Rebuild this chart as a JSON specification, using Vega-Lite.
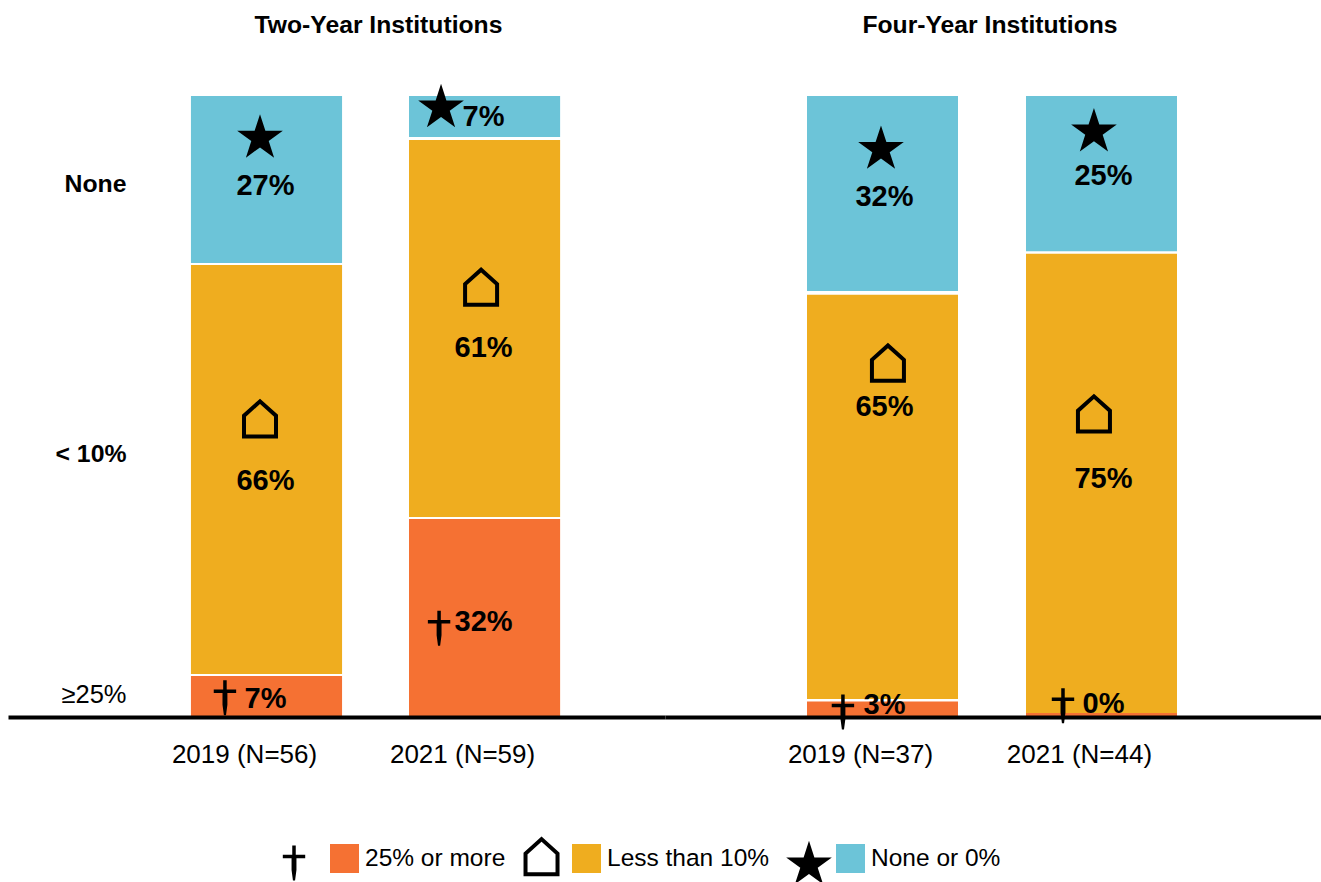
{
"$schema":"https://vega.github.io/schema/vega-lite/v6.json",
"background":"white",
"padding":{"left":8,"top":13,"right":0,"bottom":0},
"spacing":0,
"bounds":"flush",
"config":{"view":{"stroke":null},"font":"Liberation Sans"},
"datasets":{
"bars":[
{"panel":"Two-Year","cohort":"2019 (N=56)","segment":"25% or more","lower":0,"upper":6.6,"label":"7%","labelLevel":3.1},
{"panel":"Two-Year","cohort":"2019 (N=56)","segment":"Less than 10%","lower":6.92,"upper":72.8,"label":"66%","labelLevel":38.3},
{"panel":"Two-Year","cohort":"2019 (N=56)","segment":"None or 0%","lower":73.1,"upper":100,"label":"27%","labelLevel":85.7},
{"panel":"Two-Year","cohort":"2021 (N=59)","segment":"25% or more","lower":0,"upper":31.9,"label":"32%","labelLevel":15.5},
{"panel":"Two-Year","cohort":"2021 (N=59)","segment":"Less than 10%","lower":32.2,"upper":92.9,"label":"61%","labelLevel":59.7},
{"panel":"Two-Year","cohort":"2021 (N=59)","segment":"None or 0%","lower":93.4,"upper":100,"label":"7%","labelLevel":96.8},
{"panel":"Four-Year","cohort":"2019 (N=37)","segment":"25% or more","lower":0,"upper":2.5,"label":"3%","labelLevel":2.1},
{"panel":"Four-Year","cohort":"2019 (N=37)","segment":"Less than 10%","lower":2.9,"upper":68.0,"label":"65%","labelLevel":50.1},
{"panel":"Four-Year","cohort":"2019 (N=37)","segment":"None or 0%","lower":68.6,"upper":100,"label":"32%","labelLevel":83.9},
{"panel":"Four-Year","cohort":"2021 (N=44)","segment":"25% or more","lower":0,"upper":0.64,"label":"0%","labelLevel":2.4},
{"panel":"Four-Year","cohort":"2021 (N=44)","segment":"Less than 10%","lower":0.64,"upper":74.6,"label":"75%","labelLevel":38.6},
{"panel":"Four-Year","cohort":"2021 (N=44)","segment":"None or 0%","lower":75.0,"upper":100,"label":"25%","labelLevel":87.4}
],
"icons":[
{"panel":"Two-Year","cohort":"2019 (N=56)","icon":"dagger","across":22.5,"level":3.1},
{"panel":"Two-Year","cohort":"2019 (N=56)","icon":"house","across":45.7,"level":48.0},
{"panel":"Two-Year","cohort":"2019 (N=56)","icon":"star","across":45.7,"level":93.2},
{"panel":"Two-Year","cohort":"2021 (N=59)","icon":"dagger","across":19.9,"level":14.3},
{"panel":"Two-Year","cohort":"2021 (N=59)","icon":"house","across":47.7,"level":69.2},
{"panel":"Two-Year","cohort":"2021 (N=59)","icon":"star","across":21.2,"level":98.1},
{"panel":"Four-Year","cohort":"2019 (N=37)","icon":"dagger","across":23.8,"level":0.8},
{"panel":"Four-Year","cohort":"2019 (N=37)","icon":"house","across":53.6,"level":57.0},
{"panel":"Four-Year","cohort":"2019 (N=37)","icon":"star","across":49,"level":91.4},
{"panel":"Four-Year","cohort":"2021 (N=44)","icon":"dagger","across":24.5,"level":1.8},
{"panel":"Four-Year","cohort":"2021 (N=44)","icon":"house","across":45,"level":48.8},
{"panel":"Four-Year","cohort":"2021 (N=44)","icon":"star","across":45,"level":94.2},
{"panel":"Two-Year","cohort":"2019 (N=56)","icon":"dagger","across":68.2,"level":-23.5},
{"panel":"Two-Year","cohort":"2019 (N=56)","icon":"house","across":232,"level":-22.5},
{"panel":"Two-Year","cohort":"2019 (N=56)","icon":"star","across":409,"level":-23.8}
]
},
"hconcat":[
{
"width":657,"height":621,
"title":{"text":"Two-Year Institutions","fontSize":24.7,"fontWeight":"bold","color":"black","anchor":"middle","dx":42,"offset":46},
"resolve":{"scale":{"xOffset":"independent"}},
"encoding":{
"x":{"field":"cohort","type":"nominal","sort":["2019 (N=56)","2021 (N=59)"],
"scale":{"paddingInner":0.307,"paddingOuter":0.66,"align":0.6356},
"axis":{"title":null,"labelAngle":0,"labelFontSize":26,"labelColor":"black","labelOffset":-22,"labelPadding":24,"ticks":false,"domainColor":"black","domainWidth":4,"zindex":1}}
},
"layer":[
{"data":{"name":"bars"},"transform":[{"filter":"datum.panel==='Two-Year'"}],
"mark":{"type":"bar","width":{"band":1}},
"encoding":{
"y":{"field":"lower","type":"quantitative","scale":{"domain":[0,100],"nice":false},
"axis":{"title":null,"values":[3.7,42.2,85.7],"labelExpr":"datum.value==85.7?'None':datum.value==42.2?'< 10%':'≥25%'","labelFontSize":{"condition":{"test":"datum.value==3.7","value":25.5},"value":24.8},"labelColor":"black","labelPadding":-118,"ticks":false,"domain":false,"grid":false,"labelFontWeight":{"condition":{"test":"datum.value==3.7","value":"normal"},"value":"bold"}}},
"y2":{"field":"upper"},
"color":{"field":"segment","type":"nominal","scale":{"domain":["25% or more","Less than 10%","None or 0%"],"range":["#F57133","#EFAD1F","#6CC4D8"]},
"legend":{"title":null,"orient":"none","legendX":322,"legendY":748,"direction":"horizontal","columns":3,"symbolType":"square","symbolSize":841,"symbolStrokeWidth":0,"symbolOpacity":1,"labelFontSize":24.5,"labelColor":"black","labelOffset":6,"columnPadding":66,"labelLimit":300}}
}},
{"data":{"name":"bars"},"transform":[{"filter":"datum.panel==='Two-Year'"}],
"mark":{"type":"text","fontSize":29,"fontWeight":"bold","color":"black","align":"center","baseline":"middle","dy":1.5,"dx":-1},
"encoding":{"y":{"field":"labelLevel","type":"quantitative"},"text":{"field":"label"}}},
{"data":{"name":"icons"},"transform":[{"filter":"datum.panel==='Two-Year'&&datum.icon==='star'"}],
"mark":{"type":"point","filled":true,"color":"black","opacity":1,"size":2304,"shape":"M0,-1L.2245,-.309L.951,-.309L.363,.118L.588,.809L0,.382L-.588,.809L-.363,.118L-.951,-.309L-.2245,-.309Z"},
"encoding":{"y":{"field":"level","type":"quantitative"},"xOffset":{"field":"across","type":"quantitative","scale":{"domain":[0,100]}}}},
{"data":{"name":"icons"},"transform":[{"filter":"datum.panel==='Two-Year'&&datum.icon==='house'"}],
"mark":{"type":"point","filled":false,"stroke":"black","strokeWidth":4,"opacity":1,"size":4096,"shape":"M-.5,.55L-.5,-.1L0,-.55L.5,-.1L.5,.55Z"},
"encoding":{"y":{"field":"level","type":"quantitative"},"xOffset":{"field":"across","type":"quantitative","scale":{"domain":[0,100]}}}},
{"data":{"name":"icons"},"transform":[{"filter":"datum.panel==='Two-Year'&&datum.icon==='dagger'"}],
"mark":{"type":"point","filled":true,"color":"black","opacity":1,"size":4900,"shape":"M-.05,-.5L.05,-.5L.05,-.236L.32,-.236L.32,-.136L.07,-.136L.07,.2L.03,.5L-.03,.5L-.07,.2L-.07,-.136L-.32,-.136L-.32,-.236L-.05,-.236Z"},
"encoding":{"y":{"field":"level","type":"quantitative"},"xOffset":{"field":"across","type":"quantitative","scale":{"domain":[0,100]}}}}
]
},
{
"width":656,"height":621,
"title":{"text":"Four-Year Institutions","fontSize":24.7,"fontWeight":"bold","color":"black","anchor":"middle","dx":-3,"offset":58},
"resolve":{"scale":{"xOffset":"independent"}},
"encoding":{
"x":{"field":"cohort","type":"nominal","sort":["2019 (N=37)","2021 (N=44)"],
"scale":{"paddingInner":0.3105,"paddingOuter":0.653,"align":0.4965},
"axis":{"title":null,"labelAngle":0,"labelFontSize":26,"labelColor":"black","labelOffset":-22,"labelPadding":24,"ticks":false,"domainColor":"black","domainWidth":4,"zindex":1}}
},
"layer":[
{"data":{"name":"bars"},"transform":[{"filter":"datum.panel==='Four-Year'"}],
"mark":{"type":"bar","width":{"band":1}},
"encoding":{
"y":{"field":"lower","type":"quantitative","scale":{"domain":[0,100],"nice":false},"axis":null},
"y2":{"field":"upper"},
"color":{"field":"segment","type":"nominal","scale":{"domain":["25% or more","Less than 10%","None or 0%"],"range":["#F57133","#EFAD1F","#6CC4D8"]},"legend":null}
}},
{"data":{"name":"bars"},"transform":[{"filter":"datum.panel==='Four-Year'"}],
"mark":{"type":"text","fontSize":29,"fontWeight":"bold","color":"black","align":"center","baseline":"middle","dx":2,"dy":1.5},
"encoding":{"y":{"field":"labelLevel","type":"quantitative"},"text":{"field":"label"}}},
{"data":{"name":"icons"},"transform":[{"filter":"datum.panel==='Four-Year'&&datum.icon==='star'"}],
"mark":{"type":"point","filled":true,"color":"black","opacity":1,"size":2304,"shape":"M0,-1L.2245,-.309L.951,-.309L.363,.118L.588,.809L0,.382L-.588,.809L-.363,.118L-.951,-.309L-.2245,-.309Z"},
"encoding":{"y":{"field":"level","type":"quantitative"},"xOffset":{"field":"across","type":"quantitative","scale":{"domain":[0,100]}}}},
{"data":{"name":"icons"},"transform":[{"filter":"datum.panel==='Four-Year'&&datum.icon==='house'"}],
"mark":{"type":"point","filled":false,"stroke":"black","strokeWidth":4,"opacity":1,"size":4096,"shape":"M-.5,.55L-.5,-.1L0,-.55L.5,-.1L.5,.55Z"},
"encoding":{"y":{"field":"level","type":"quantitative"},"xOffset":{"field":"across","type":"quantitative","scale":{"domain":[0,100]}}}},
{"data":{"name":"icons"},"transform":[{"filter":"datum.panel==='Four-Year'&&datum.icon==='dagger'"}],
"mark":{"type":"point","filled":true,"color":"black","opacity":1,"size":4900,"shape":"M-.05,-.5L.05,-.5L.05,-.236L.32,-.236L.32,-.136L.07,-.136L.07,.2L.03,.5L-.03,.5L-.07,.2L-.07,-.136L-.32,-.136L-.32,-.236L-.05,-.236Z"},
"encoding":{"y":{"field":"level","type":"quantitative"},"xOffset":{"field":"across","type":"quantitative","scale":{"domain":[0,100]}}}}
]
}
]
}
